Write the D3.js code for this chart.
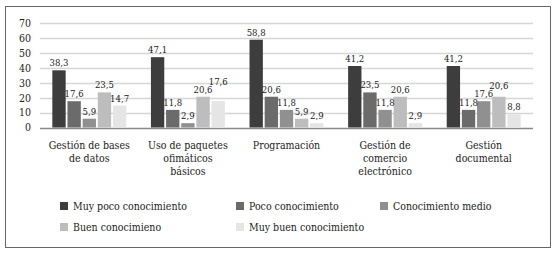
<!DOCTYPE html>
<html>
<head>
<meta charset="utf-8">
<script src="https://cdn.jsdelivr.net/npm/d3@7"></script>
<style>
  body { margin: 0; background: #fff; }
  svg text { font-family: "DejaVu Serif Condensed", "DejaVu Serif", serif; font-stretch: condensed; }
</style>
</head>
<body>
<div id="chart"></div>
<script>
// Nivel de conocimiento por área (%)
const categories = [
  ["Gestión de bases", "de datos"],
  ["Uso de paquetes", "ofimáticos", "básicos"],
  ["Programación"],
  ["Gestión de", "comercio", "electrónico"],
  ["Gestión", "documental"]
];
const series = ["Muy poco conocimiento", "Poco conocimiento", "Conocimiento medio", "Buen conocimieno", "Muy buen conocimiento"];
const colors = ["#3d3d3d", "#6b6b6b", "#909090", "#bdbdbd", "#e5e5e5"];
const muyPoco   = [38.3, 47.1, 58.8, 41.2, 41.2];
const poco      = [17.6, 11.8, 20.6, 23.5, 11.8];
const medio     = [5.9, 2.9, 11.8, 11.8, 17.6];
const bueno     = [23.5, 20.6, 5.9, 20.6, 20.6];
const muyBueno  = [14.7, 17.6, 2.9, 2.9, 8.8];
const yTicks = [0, 10, 20, 30, 40, 50, 60, 70];

const values = [muyPoco, poco, medio, bueno, muyBueno];

const width = 557, height = 256;
const svg = d3.select("#chart").append("svg")
  .attr("width", width)
  .attr("height", height);

// marco
svg.append("rect")
  .attr("x", 5.5).attr("y", 6.5)
  .attr("width", 545).attr("height", 241)
  .attr("fill", "none")
  .attr("stroke", "#666")
  .attr("stroke-width", 1);

const x0 = d3.scaleBand()
  .domain(d3.range(categories.length))
  .range([40, 533])
  .paddingInner(0.25)
  .paddingOuter(0.125);

const x1 = d3.scaleBand()
  .domain(d3.range(series.length))
  .range([0, x0.bandwidth()])
  .paddingInner(0.12);

const y = d3.scaleLinear()
  .domain([0, 70])
  .range([127.5, 23]);

// rejilla
svg.append("g")
  .selectAll("line")
  .data(yTicks)
  .join("line")
  .attr("x1", 40).attr("x2", 533)
  .attr("y1", d => Math.round(y(d)) + 0.5)
  .attr("y2", d => Math.round(y(d)) + 0.5)
  .attr("stroke", d => d === 0 ? "#8a8a8a" : "#d6d6d6")
  .attr("stroke-width", 1.3);

// eje y
const yAxis = svg.append("g")
  .attr("transform", "translate(31,0)")
  .call(d3.axisLeft(y).tickValues(yTicks).tickSize(0).tickPadding(0));
yAxis.attr("font-size", 10.5);
yAxis.select(".domain").remove();
yAxis.selectAll("text").attr("fill", "#222");

// barras
const groups = svg.append("g")
  .selectAll("g")
  .data(categories)
  .join("g")
  .attr("transform", (d, i) => `translate(${x0(i)},0)`);

groups.selectAll("rect")
  .data((d, i) => values.map((s, j) => ({ s: j, v: s[i] })))
  .join("rect")
  .attr("x", d => x1(d.s))
  .attr("y", d => y(d.v))
  .attr("width", x1.bandwidth())
  .attr("height", d => y(0) - y(d.v))
  .attr("fill", d => colors[d.s]);

groups.each(function() {
  const labels = d3.select(this).selectAll("text.val")
    .data(d3.select(this).selectAll("rect").data())
    .join("text")
    .attr("class", "val")
    .attr("x", d => x1(d.s) + x1.bandwidth() / 2)
    .attr("y", d => y(d.v) - 4)
    .attr("text-anchor", "middle")
    .attr("font-size", 9.5)
    .attr("fill", "#222")
    .text(d => d.v.toFixed(1).replace(".", ","));

  // evitar que las etiquetas vecinas se pisen
  const nodes = labels.nodes();
  for (let j = 1; j < nodes.length; j++) {
    const a = nodes[j - 1], b = nodes[j];
    const ya = +a.getAttribute("y"), yb = +b.getAttribute("y");
    const wa = a.getBBox().width, wb = b.getBBox().width;
    const dx = +b.getAttribute("x") - +a.getAttribute("x");
    if (dx < (wa + wb) / 2 + 1 && Math.abs(ya - yb) < 8) {
      b.setAttribute("y", Math.min(yb, ya - 8));
    }
  }
});

// etiquetas de categoría
svg.append("g")
  .selectAll("text")
  .data(categories)
  .join("text")
  .attr("x", (d, i) => x0(i) + x0.bandwidth() / 2)
  .attr("y", 149)
  .attr("text-anchor", "middle")
  .attr("font-size", 10.5)
  .attr("fill", "#222")
  .selectAll("tspan")
  .data(d => d)
  .join("tspan")
  .attr("x", function() { return this.parentNode.getAttribute("x"); })
  .attr("dy", (d, i) => i === 0 ? 0 : 13)
  .text(d => d);

// leyenda
const legX = [60, 236, 380];
const legend = svg.append("g")
  .selectAll("g")
  .data(series)
  .join("g")
  .attr("transform", (d, i) => `translate(${legX[i % 3]},${202 + Math.floor(i / 3) * 21})`);

legend.append("rect")
  .attr("width", 8).attr("height", 8)
  .attr("fill", (d, i) => colors[i]);

legend.append("text")
  .attr("x", 13)
  .attr("y", 8)
  .attr("font-size", 10.5)
  .attr("fill", "#222")
  .text(d => d);
</script>
</body>
</html>
